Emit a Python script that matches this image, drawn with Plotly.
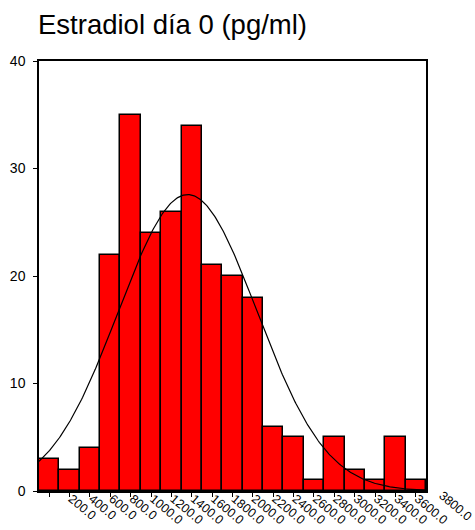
import numpy as np
import plotly.graph_objects as go

# Data
bin_centers = [0, 200, 400, 600, 800, 1000, 1200, 1400, 1600, 1800, 2000,
               2200, 2400, 2600, 2800, 3000, 3200, 3400, 3600]
counts = [3, 2, 4, 22, 35, 24, 26, 34, 21, 20, 18, 6, 5, 1, 5, 2, 1, 5, 1]
tick_labels = ["", "200.0", "400.0", "600.0", "800.0", "1000.0", "1200.0", "1400.0",
               "1600.0", "1800.0", "2000.0", "2200.0", "2400.0", "2600.0", "2800.0",
               "3000.0", "3200.0", "3400.0", "3600.0"]
extra_label = "3800.0"
extra_label_pos = 3800
bin_width = 200
x_range = [-100, 3700]
fit_mean = 1360.0
fit_sd = 680.0
title_text = "Estradiol día 0 (pg/ml)"

n_total = sum(counts)
xs = np.linspace(x_range[0], x_range[1], 400)
ys = n_total * bin_width / (fit_sd * np.sqrt(2 * np.pi)) * np.exp(-0.5 * ((xs - fit_mean) / fit_sd) ** 2)

font_family = "Liberation Sans, Arial, sans-serif"
xtick_font = dict(family=font_family, size=12.5, color="black")
ytick_font = dict(family=font_family, size=14, color="black")

fig = go.Figure()
fig.add_trace(go.Bar(
    x=bin_centers, y=counts, width=bin_width,
    marker=dict(color="#FF0000", line=dict(color="black", width=1.5)),
    showlegend=False, hoverinfo="x+y",
))
fig.add_trace(go.Scatter(
    x=xs, y=ys, mode="lines", line=dict(color="black", width=1.2),
    showlegend=False, hoverinfo="skip",
))

fig.add_annotation(
    x=(extra_label_pos - x_range[0]) / (x_range[1] - x_range[0]), y=0,
    xref="paper", yref="paper", text=extra_label,
    textangle=40, showarrow=False, xanchor="left", yanchor="top",
    xshift=-3, yshift=5, font=xtick_font,
)

fig.update_layout(
    width=475, height=530,
    margin=dict(l=39, r=49, t=61, b=39, autoexpand=False),
    paper_bgcolor="white", plot_bgcolor="white",
    bargap=0,
    title=dict(text=title_text, x=38 / 475, xanchor="left", xref="container",
               y=1 - 24 / 530, yanchor="middle", yref="container",
               font=dict(family=font_family, size=27.5, color="black")),
    font=dict(family=font_family, size=14, color="black"),
)
fig.update_xaxes(
    range=x_range, tickmode="array", tickvals=bin_centers, ticktext=tick_labels,
    tickangle=40, ticks="outside", ticklen=4, tickcolor="black",
    ticklabelstandoff=-10, ticklabelshift=2,
    showline=True, linecolor="black", linewidth=1.5, mirror=True,
    showgrid=False, zeroline=False, tickfont=xtick_font,
)
fig.update_yaxes(
    range=[0, 40], tickvals=[0, 10, 20, 30, 40], ticks="outside", ticklen=4,
    tickcolor="black", ticklabelstandoff=5,
    showline=True, linecolor="black", linewidth=1.5, mirror=True,
    showgrid=False, zeroline=False, tickfont=ytick_font,
)

fig.write_html("out.html")
